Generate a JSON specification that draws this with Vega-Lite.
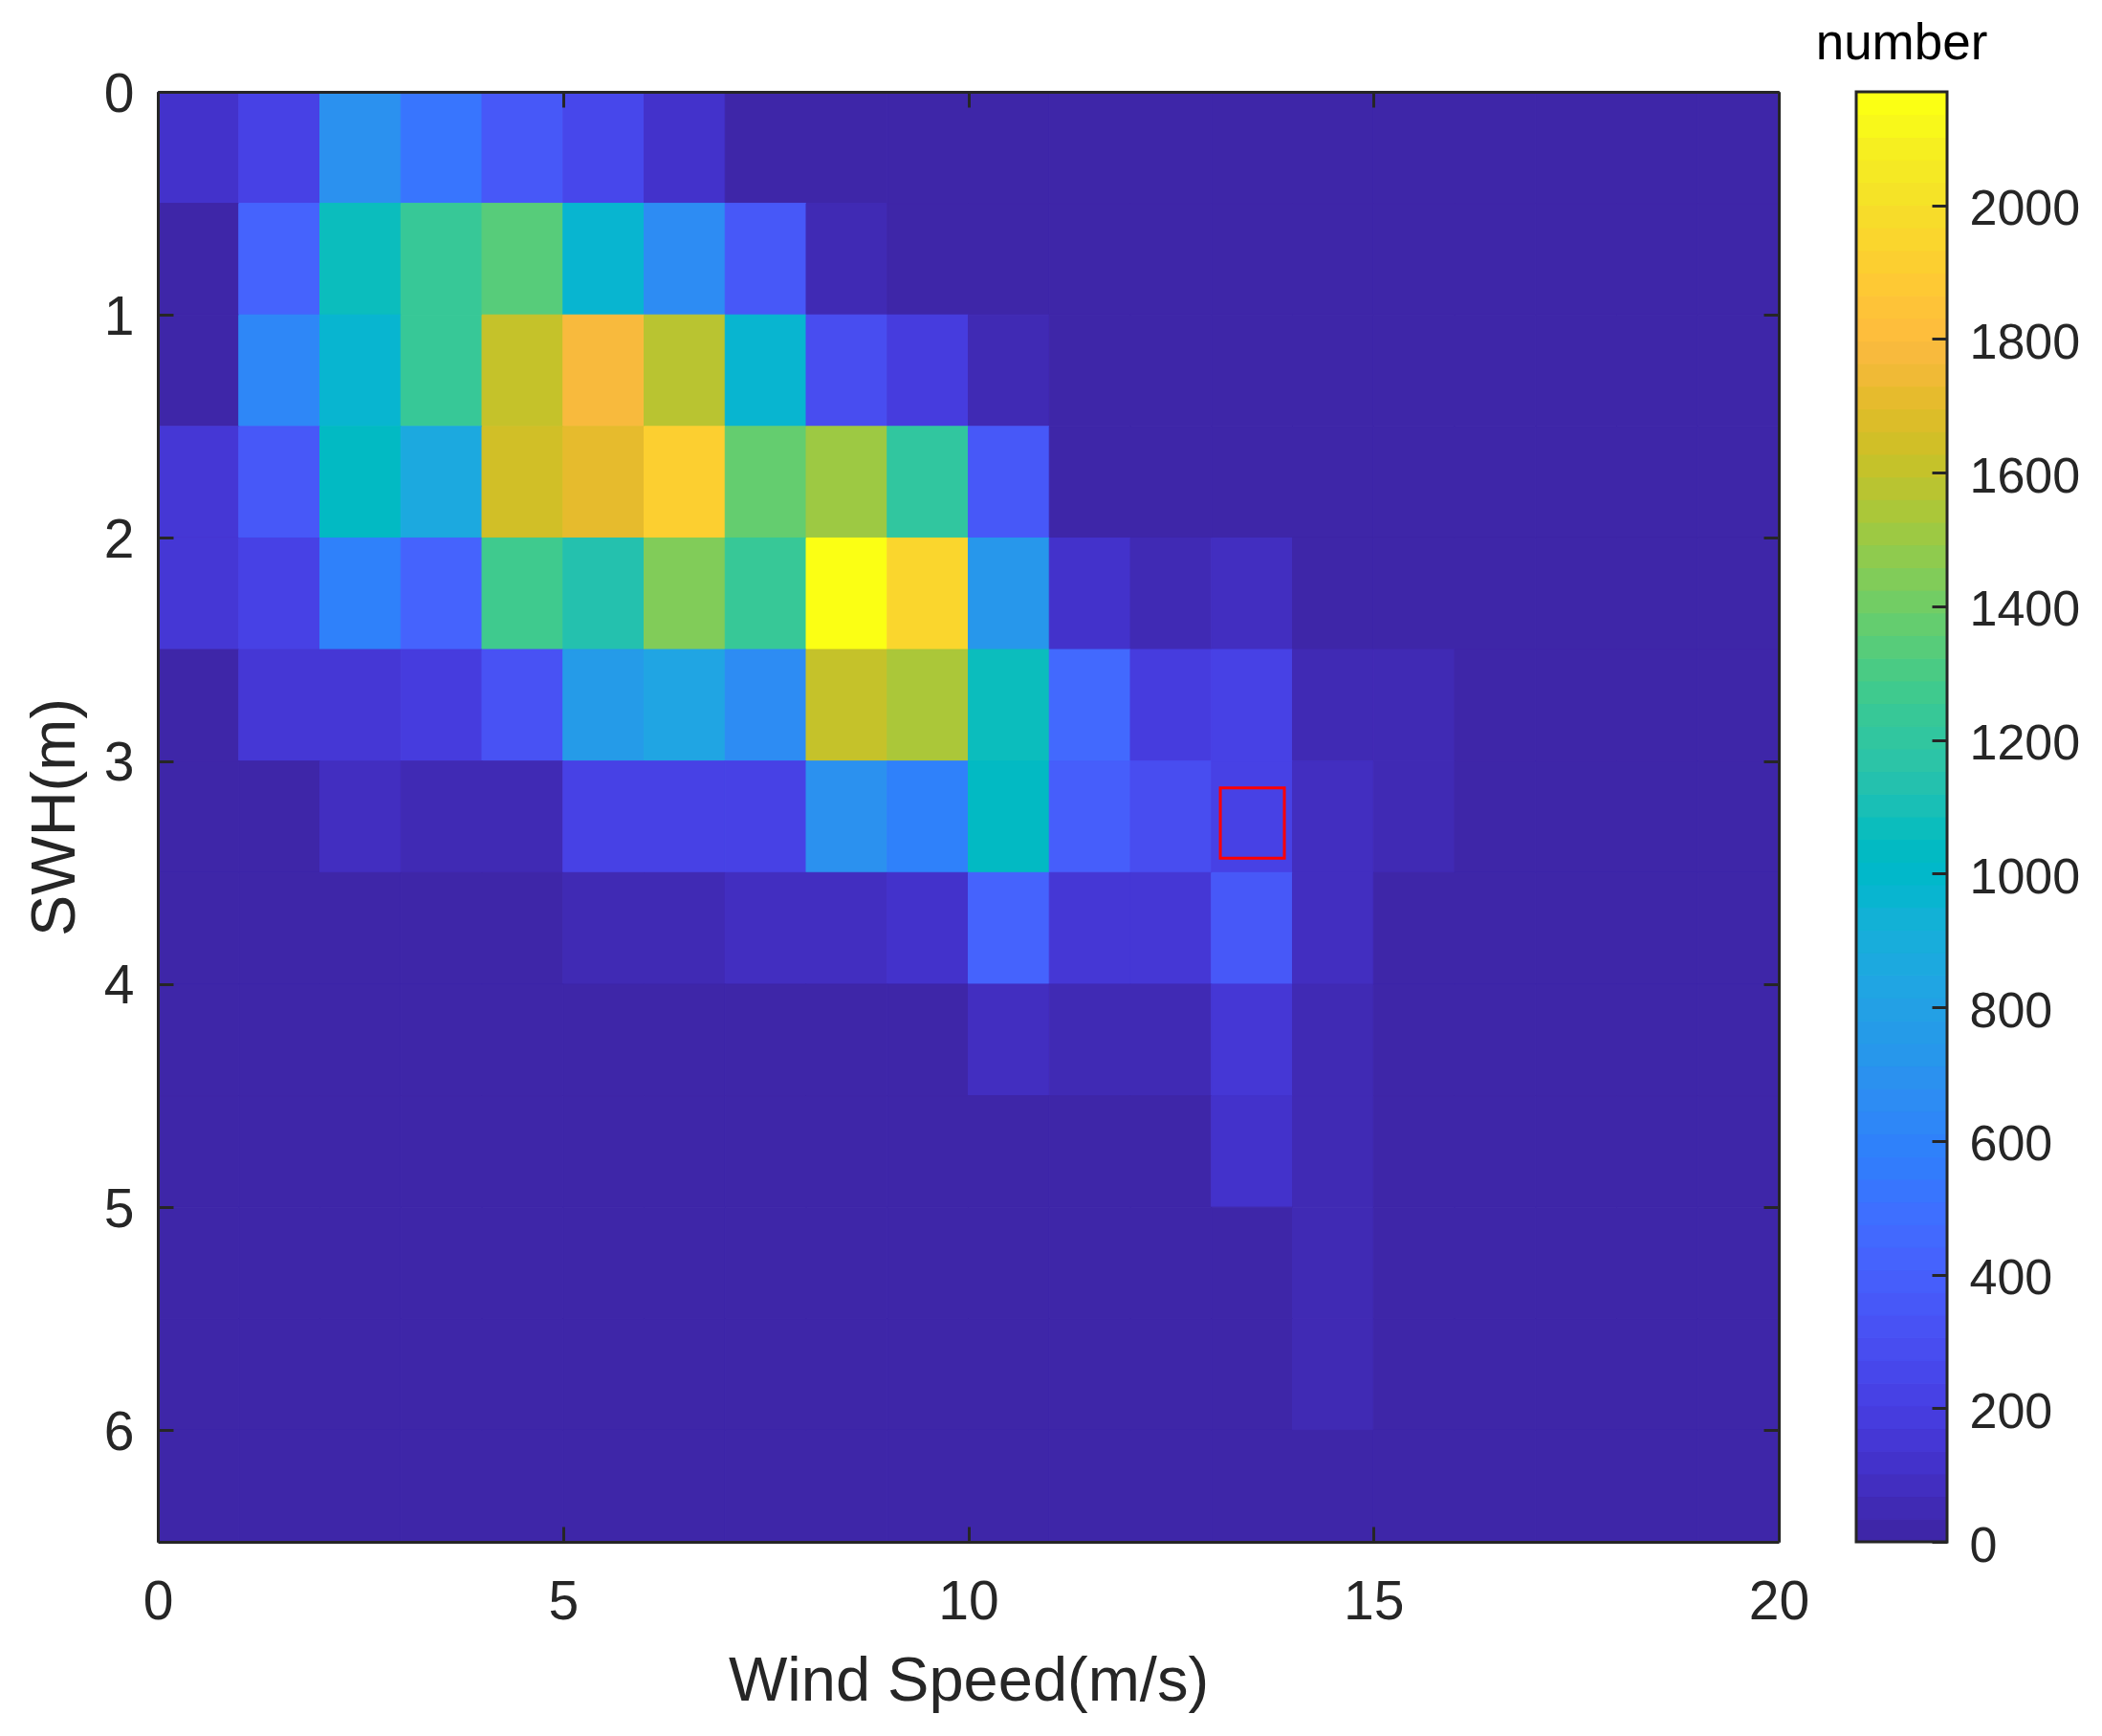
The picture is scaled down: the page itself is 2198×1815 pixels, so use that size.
{"$schema":"https://vega.github.io/schema/vega-lite/v6.json","autosize":{"type":"none"},"padding":{"left":165,"top":96,"right":2033,"bottom":203},"background":"white","bounds":"flush","spacing":81,"config":{"font":"Liberation Sans","view":{"stroke":null},"range":{"heatmap":["#3E26A8","#402AB4","#422EC0","#4332CB","#4537D5","#463CDE","#4741E5","#4747EB","#484DF0","#4852F4","#4758F8","#465EFB","#4563FD","#4269FE","#3E6FFF","#3875FE","#327CFC","#2F81FA","#2E87F7","#2D8CF3","#2B91EF","#2797EB","#259BE8","#23A0E5","#20A5E3","#1CA9DF","#18ADDB","#12B1D6","#08B5D0","#01B8CA","#02BAC3","#0BBDBD","#19BFB6","#24C1AE","#2CC4A7","#31C69F","#37C897","#3FCA8E","#4ACB84","#57CC7A","#64CD6F","#72CD64","#81CC59","#8FCB4E","#9DC943","#ABC739","#B9C431","#C5C22A","#D1BF27","#DCBD29","#E6BB2D","#F0BA36","#F8BA3D","#FEBE3C","#FEC338","#FEC934","#FCCF30","#FAD62D","#F7DC2A","#F5E327","#F5E924","#F6EF20","#F8F81A","#FBFF14"]}},
"datasets":{"cells":[
{"x":0,"x2":1,"y":0,"y2":0.5,"n":130},{"x":1,"x2":2,"y":0,"y2":0.5,"n":220},{"x":2,"x2":3,"y":0,"y2":0.5,"n":690},{"x":3,"x2":4,"y":0,"y2":0.5,"n":540},{"x":4,"x2":5,"y":0,"y2":0.5,"n":370},{"x":5,"x2":6,"y":0,"y2":0.5,"n":250},{"x":6,"x2":7,"y":0,"y2":0.5,"n":130},{"x":7,"x2":8,"y":0,"y2":0.5,"n":0},{"x":8,"x2":9,"y":0,"y2":0.5,"n":0},{"x":9,"x2":10,"y":0,"y2":0.5,"n":0},{"x":10,"x2":11,"y":0,"y2":0.5,"n":0},{"x":11,"x2":12,"y":0,"y2":0.5,"n":0},{"x":12,"x2":13,"y":0,"y2":0.5,"n":0},{"x":13,"x2":14,"y":0,"y2":0.5,"n":0},{"x":14,"x2":15,"y":0,"y2":0.5,"n":0},{"x":15,"x2":16,"y":0,"y2":0.5,"n":0},{"x":16,"x2":17,"y":0,"y2":0.5,"n":0},{"x":17,"x2":18,"y":0,"y2":0.5,"n":0},{"x":18,"x2":19,"y":0,"y2":0.5,"n":0},{"x":19,"x2":20,"y":0,"y2":0.5,"n":0},
{"x":0,"x2":1,"y":0.5,"y2":1,"n":30},{"x":1,"x2":2,"y":0.5,"y2":1,"n":420},{"x":2,"x2":3,"y":0.5,"y2":1,"n":1060},{"x":3,"x2":4,"y":0.5,"y2":1,"n":1240},{"x":4,"x2":5,"y":0.5,"y2":1,"n":1330},{"x":5,"x2":6,"y":0.5,"y2":1,"n":970},{"x":6,"x2":7,"y":0.5,"y2":1,"n":660},{"x":7,"x2":8,"y":0.5,"y2":1,"n":340},{"x":8,"x2":9,"y":0.5,"y2":1,"n":50},{"x":9,"x2":10,"y":0.5,"y2":1,"n":0},{"x":10,"x2":11,"y":0.5,"y2":1,"n":0},{"x":11,"x2":12,"y":0.5,"y2":1,"n":0},{"x":12,"x2":13,"y":0.5,"y2":1,"n":0},{"x":13,"x2":14,"y":0.5,"y2":1,"n":0},{"x":14,"x2":15,"y":0.5,"y2":1,"n":0},{"x":15,"x2":16,"y":0.5,"y2":1,"n":0},{"x":16,"x2":17,"y":0.5,"y2":1,"n":0},{"x":17,"x2":18,"y":0.5,"y2":1,"n":0},{"x":18,"x2":19,"y":0.5,"y2":1,"n":0},{"x":19,"x2":20,"y":0.5,"y2":1,"n":0},
{"x":0,"x2":1,"y":1,"y2":1.5,"n":30},{"x":1,"x2":2,"y":1,"y2":1.5,"n":620},{"x":2,"x2":3,"y":1,"y2":1.5,"n":960},{"x":3,"x2":4,"y":1,"y2":1.5,"n":1240},{"x":4,"x2":5,"y":1,"y2":1.5,"n":1610},{"x":5,"x2":6,"y":1,"y2":1.5,"n":1780},{"x":6,"x2":7,"y":1,"y2":1.5,"n":1580},{"x":7,"x2":8,"y":1,"y2":1.5,"n":970},{"x":8,"x2":9,"y":1,"y2":1.5,"n":290},{"x":9,"x2":10,"y":1,"y2":1.5,"n":190},{"x":10,"x2":11,"y":1,"y2":1.5,"n":50},{"x":11,"x2":12,"y":1,"y2":1.5,"n":0},{"x":12,"x2":13,"y":1,"y2":1.5,"n":0},{"x":13,"x2":14,"y":1,"y2":1.5,"n":0},{"x":14,"x2":15,"y":1,"y2":1.5,"n":0},{"x":15,"x2":16,"y":1,"y2":1.5,"n":0},{"x":16,"x2":17,"y":1,"y2":1.5,"n":0},{"x":17,"x2":18,"y":1,"y2":1.5,"n":0},{"x":18,"x2":19,"y":1,"y2":1.5,"n":0},{"x":19,"x2":20,"y":1,"y2":1.5,"n":0},
{"x":0,"x2":1,"y":1.5,"y2":2,"n":160},{"x":1,"x2":2,"y":1.5,"y2":2,"n":340},{"x":2,"x2":3,"y":1.5,"y2":2,"n":1030},{"x":3,"x2":4,"y":1.5,"y2":2,"n":870},{"x":4,"x2":5,"y":1.5,"y2":2,"n":1640},{"x":5,"x2":6,"y":1.5,"y2":2,"n":1710},{"x":6,"x2":7,"y":1.5,"y2":2,"n":1920},{"x":7,"x2":8,"y":1.5,"y2":2,"n":1380},{"x":8,"x2":9,"y":1.5,"y2":2,"n":1510},{"x":9,"x2":10,"y":1.5,"y2":2,"n":1200},{"x":10,"x2":11,"y":1.5,"y2":2,"n":350},{"x":11,"x2":12,"y":1.5,"y2":2,"n":0},{"x":12,"x2":13,"y":1.5,"y2":2,"n":0},{"x":13,"x2":14,"y":1.5,"y2":2,"n":0},{"x":14,"x2":15,"y":1.5,"y2":2,"n":0},{"x":15,"x2":16,"y":1.5,"y2":2,"n":0},{"x":16,"x2":17,"y":1.5,"y2":2,"n":0},{"x":17,"x2":18,"y":1.5,"y2":2,"n":0},{"x":18,"x2":19,"y":1.5,"y2":2,"n":0},{"x":19,"x2":20,"y":1.5,"y2":2,"n":0},
{"x":0,"x2":1,"y":2,"y2":2.5,"n":160},{"x":1,"x2":2,"y":2,"y2":2.5,"n":230},{"x":2,"x2":3,"y":2,"y2":2.5,"n":600},{"x":3,"x2":4,"y":2,"y2":2.5,"n":420},{"x":4,"x2":5,"y":2,"y2":2.5,"n":1280},{"x":5,"x2":6,"y":2,"y2":2.5,"n":1130},{"x":6,"x2":7,"y":2,"y2":2.5,"n":1440},{"x":7,"x2":8,"y":2,"y2":2.5,"n":1240},{"x":8,"x2":9,"y":2,"y2":2.5,"n":2170},{"x":9,"x2":10,"y":2,"y2":2.5,"n":1950},{"x":10,"x2":11,"y":2,"y2":2.5,"n":730},{"x":11,"x2":12,"y":2,"y2":2.5,"n":120},{"x":12,"x2":13,"y":2,"y2":2.5,"n":50},{"x":13,"x2":14,"y":2,"y2":2.5,"n":70},{"x":14,"x2":15,"y":2,"y2":2.5,"n":0},{"x":15,"x2":16,"y":2,"y2":2.5,"n":0},{"x":16,"x2":17,"y":2,"y2":2.5,"n":0},{"x":17,"x2":18,"y":2,"y2":2.5,"n":0},{"x":18,"x2":19,"y":2,"y2":2.5,"n":0},{"x":19,"x2":20,"y":2,"y2":2.5,"n":0},
{"x":0,"x2":1,"y":2.5,"y2":3,"n":20},{"x":1,"x2":2,"y":2.5,"y2":3,"n":140},{"x":2,"x2":3,"y":2.5,"y2":3,"n":140},{"x":3,"x2":4,"y":2.5,"y2":3,"n":180},{"x":4,"x2":5,"y":2.5,"y2":3,"n":320},{"x":5,"x2":6,"y":2.5,"y2":3,"n":760},{"x":6,"x2":7,"y":2.5,"y2":3,"n":830},{"x":7,"x2":8,"y":2.5,"y2":3,"n":650},{"x":8,"x2":9,"y":2.5,"y2":3,"n":1610},{"x":9,"x2":10,"y":2.5,"y2":3,"n":1540},{"x":10,"x2":11,"y":2.5,"y2":3,"n":1060},{"x":11,"x2":12,"y":2.5,"y2":3,"n":450},{"x":12,"x2":13,"y":2.5,"y2":3,"n":190},{"x":13,"x2":14,"y":2.5,"y2":3,"n":210},{"x":14,"x2":15,"y":2.5,"y2":3,"n":60},{"x":15,"x2":16,"y":2.5,"y2":3,"n":60},{"x":16,"x2":17,"y":2.5,"y2":3,"n":0},{"x":17,"x2":18,"y":2.5,"y2":3,"n":0},{"x":18,"x2":19,"y":2.5,"y2":3,"n":0},{"x":19,"x2":20,"y":2.5,"y2":3,"n":0},
{"x":0,"x2":1,"y":3,"y2":3.5,"n":0},{"x":1,"x2":2,"y":3,"y2":3.5,"n":0},{"x":2,"x2":3,"y":3,"y2":3.5,"n":70},{"x":3,"x2":4,"y":3,"y2":3.5,"n":40},{"x":4,"x2":5,"y":3,"y2":3.5,"n":40},{"x":5,"x2":6,"y":3,"y2":3.5,"n":220},{"x":6,"x2":7,"y":3,"y2":3.5,"n":220},{"x":7,"x2":8,"y":3,"y2":3.5,"n":220},{"x":8,"x2":9,"y":3,"y2":3.5,"n":690},{"x":9,"x2":10,"y":3,"y2":3.5,"n":590},{"x":10,"x2":11,"y":3,"y2":3.5,"n":1040},{"x":11,"x2":12,"y":3,"y2":3.5,"n":380},{"x":12,"x2":13,"y":3,"y2":3.5,"n":280},{"x":13,"x2":14,"y":3,"y2":3.5,"n":210},{"x":14,"x2":15,"y":3,"y2":3.5,"n":80},{"x":15,"x2":16,"y":3,"y2":3.5,"n":50},{"x":16,"x2":17,"y":3,"y2":3.5,"n":0},{"x":17,"x2":18,"y":3,"y2":3.5,"n":0},{"x":18,"x2":19,"y":3,"y2":3.5,"n":0},{"x":19,"x2":20,"y":3,"y2":3.5,"n":0},
{"x":0,"x2":1,"y":3.5,"y2":4,"n":0},{"x":1,"x2":2,"y":3.5,"y2":4,"n":0},{"x":2,"x2":3,"y":3.5,"y2":4,"n":0},{"x":3,"x2":4,"y":3.5,"y2":4,"n":0},{"x":4,"x2":5,"y":3.5,"y2":4,"n":0},{"x":5,"x2":6,"y":3.5,"y2":4,"n":40},{"x":6,"x2":7,"y":3.5,"y2":4,"n":40},{"x":7,"x2":8,"y":3.5,"y2":4,"n":70},{"x":8,"x2":9,"y":3.5,"y2":4,"n":70},{"x":9,"x2":10,"y":3.5,"y2":4,"n":110},{"x":10,"x2":11,"y":3.5,"y2":4,"n":430},{"x":11,"x2":12,"y":3.5,"y2":4,"n":140},{"x":12,"x2":13,"y":3.5,"y2":4,"n":140},{"x":13,"x2":14,"y":3.5,"y2":4,"n":350},{"x":14,"x2":15,"y":3.5,"y2":4,"n":90},{"x":15,"x2":16,"y":3.5,"y2":4,"n":0},{"x":16,"x2":17,"y":3.5,"y2":4,"n":0},{"x":17,"x2":18,"y":3.5,"y2":4,"n":0},{"x":18,"x2":19,"y":3.5,"y2":4,"n":0},{"x":19,"x2":20,"y":3.5,"y2":4,"n":0},
{"x":0,"x2":1,"y":4,"y2":4.5,"n":0},{"x":1,"x2":2,"y":4,"y2":4.5,"n":0},{"x":2,"x2":3,"y":4,"y2":4.5,"n":0},{"x":3,"x2":4,"y":4,"y2":4.5,"n":0},{"x":4,"x2":5,"y":4,"y2":4.5,"n":0},{"x":5,"x2":6,"y":4,"y2":4.5,"n":0},{"x":6,"x2":7,"y":4,"y2":4.5,"n":0},{"x":7,"x2":8,"y":4,"y2":4.5,"n":0},{"x":8,"x2":9,"y":4,"y2":4.5,"n":0},{"x":9,"x2":10,"y":4,"y2":4.5,"n":0},{"x":10,"x2":11,"y":4,"y2":4.5,"n":70},{"x":11,"x2":12,"y":4,"y2":4.5,"n":50},{"x":12,"x2":13,"y":4,"y2":4.5,"n":50},{"x":13,"x2":14,"y":4,"y2":4.5,"n":160},{"x":14,"x2":15,"y":4,"y2":4.5,"n":60},{"x":15,"x2":16,"y":4,"y2":4.5,"n":0},{"x":16,"x2":17,"y":4,"y2":4.5,"n":0},{"x":17,"x2":18,"y":4,"y2":4.5,"n":0},{"x":18,"x2":19,"y":4,"y2":4.5,"n":0},{"x":19,"x2":20,"y":4,"y2":4.5,"n":0},
{"x":0,"x2":1,"y":4.5,"y2":5,"n":0},{"x":1,"x2":2,"y":4.5,"y2":5,"n":0},{"x":2,"x2":3,"y":4.5,"y2":5,"n":0},{"x":3,"x2":4,"y":4.5,"y2":5,"n":0},{"x":4,"x2":5,"y":4.5,"y2":5,"n":0},{"x":5,"x2":6,"y":4.5,"y2":5,"n":0},{"x":6,"x2":7,"y":4.5,"y2":5,"n":0},{"x":7,"x2":8,"y":4.5,"y2":5,"n":0},{"x":8,"x2":9,"y":4.5,"y2":5,"n":0},{"x":9,"x2":10,"y":4.5,"y2":5,"n":0},{"x":10,"x2":11,"y":4.5,"y2":5,"n":0},{"x":11,"x2":12,"y":4.5,"y2":5,"n":0},{"x":12,"x2":13,"y":4.5,"y2":5,"n":0},{"x":13,"x2":14,"y":4.5,"y2":5,"n":110},{"x":14,"x2":15,"y":4.5,"y2":5,"n":60},{"x":15,"x2":16,"y":4.5,"y2":5,"n":0},{"x":16,"x2":17,"y":4.5,"y2":5,"n":0},{"x":17,"x2":18,"y":4.5,"y2":5,"n":0},{"x":18,"x2":19,"y":4.5,"y2":5,"n":0},{"x":19,"x2":20,"y":4.5,"y2":5,"n":0},
{"x":0,"x2":1,"y":5,"y2":5.5,"n":0},{"x":1,"x2":2,"y":5,"y2":5.5,"n":0},{"x":2,"x2":3,"y":5,"y2":5.5,"n":0},{"x":3,"x2":4,"y":5,"y2":5.5,"n":0},{"x":4,"x2":5,"y":5,"y2":5.5,"n":0},{"x":5,"x2":6,"y":5,"y2":5.5,"n":0},{"x":6,"x2":7,"y":5,"y2":5.5,"n":0},{"x":7,"x2":8,"y":5,"y2":5.5,"n":0},{"x":8,"x2":9,"y":5,"y2":5.5,"n":0},{"x":9,"x2":10,"y":5,"y2":5.5,"n":0},{"x":10,"x2":11,"y":5,"y2":5.5,"n":0},{"x":11,"x2":12,"y":5,"y2":5.5,"n":0},{"x":12,"x2":13,"y":5,"y2":5.5,"n":0},{"x":13,"x2":14,"y":5,"y2":5.5,"n":0},{"x":14,"x2":15,"y":5,"y2":5.5,"n":60},{"x":15,"x2":16,"y":5,"y2":5.5,"n":0},{"x":16,"x2":17,"y":5,"y2":5.5,"n":0},{"x":17,"x2":18,"y":5,"y2":5.5,"n":0},{"x":18,"x2":19,"y":5,"y2":5.5,"n":0},{"x":19,"x2":20,"y":5,"y2":5.5,"n":0},
{"x":0,"x2":1,"y":5.5,"y2":6,"n":0},{"x":1,"x2":2,"y":5.5,"y2":6,"n":0},{"x":2,"x2":3,"y":5.5,"y2":6,"n":0},{"x":3,"x2":4,"y":5.5,"y2":6,"n":0},{"x":4,"x2":5,"y":5.5,"y2":6,"n":0},{"x":5,"x2":6,"y":5.5,"y2":6,"n":0},{"x":6,"x2":7,"y":5.5,"y2":6,"n":0},{"x":7,"x2":8,"y":5.5,"y2":6,"n":0},{"x":8,"x2":9,"y":5.5,"y2":6,"n":0},{"x":9,"x2":10,"y":5.5,"y2":6,"n":0},{"x":10,"x2":11,"y":5.5,"y2":6,"n":0},{"x":11,"x2":12,"y":5.5,"y2":6,"n":0},{"x":12,"x2":13,"y":5.5,"y2":6,"n":0},{"x":13,"x2":14,"y":5.5,"y2":6,"n":0},{"x":14,"x2":15,"y":5.5,"y2":6,"n":60},{"x":15,"x2":16,"y":5.5,"y2":6,"n":0},{"x":16,"x2":17,"y":5.5,"y2":6,"n":0},{"x":17,"x2":18,"y":5.5,"y2":6,"n":0},{"x":18,"x2":19,"y":5.5,"y2":6,"n":0},{"x":19,"x2":20,"y":5.5,"y2":6,"n":0},
{"x":0,"x2":1,"y":6,"y2":6.5,"n":0},{"x":1,"x2":2,"y":6,"y2":6.5,"n":0},{"x":2,"x2":3,"y":6,"y2":6.5,"n":0},{"x":3,"x2":4,"y":6,"y2":6.5,"n":0},{"x":4,"x2":5,"y":6,"y2":6.5,"n":0},{"x":5,"x2":6,"y":6,"y2":6.5,"n":0},{"x":6,"x2":7,"y":6,"y2":6.5,"n":0},{"x":7,"x2":8,"y":6,"y2":6.5,"n":0},{"x":8,"x2":9,"y":6,"y2":6.5,"n":0},{"x":9,"x2":10,"y":6,"y2":6.5,"n":0},{"x":10,"x2":11,"y":6,"y2":6.5,"n":0},{"x":11,"x2":12,"y":6,"y2":6.5,"n":0},{"x":12,"x2":13,"y":6,"y2":6.5,"n":0},{"x":13,"x2":14,"y":6,"y2":6.5,"n":0},{"x":14,"x2":15,"y":6,"y2":6.5,"n":0},{"x":15,"x2":16,"y":6,"y2":6.5,"n":0},{"x":16,"x2":17,"y":6,"y2":6.5,"n":0},{"x":17,"x2":18,"y":6,"y2":6.5,"n":0},{"x":18,"x2":19,"y":6,"y2":6.5,"n":0},{"x":19,"x2":20,"y":6,"y2":6.5,"n":0}
],
"box":[{"x":13.11,"x2":13.9,"y":3.12,"y2":3.435}],
"bands":[{"lo":0,"hi":33.9,"n":17},{"lo":33.9,"hi":67.8,"n":51},{"lo":67.8,"hi":101.7,"n":85},{"lo":101.7,"hi":135.6,"n":119},{"lo":135.6,"hi":169.5,"n":153},{"lo":169.5,"hi":203.4,"n":187},{"lo":203.4,"hi":237.3,"n":220},{"lo":237.3,"hi":271.3,"n":254},{"lo":271.3,"hi":305.2,"n":288},{"lo":305.2,"hi":339.1,"n":322},{"lo":339.1,"hi":373,"n":356},{"lo":373,"hi":406.9,"n":390},{"lo":406.9,"hi":440.8,"n":424},{"lo":440.8,"hi":474.7,"n":458},{"lo":474.7,"hi":508.6,"n":492},{"lo":508.6,"hi":542.5,"n":526},{"lo":542.5,"hi":576.4,"n":559},{"lo":576.4,"hi":610.3,"n":593},{"lo":610.3,"hi":644.2,"n":627},{"lo":644.2,"hi":678.1,"n":661},{"lo":678.1,"hi":712,"n":695},{"lo":712,"hi":745.9,"n":729},{"lo":745.9,"hi":779.8,"n":763},{"lo":779.8,"hi":813.8,"n":797},{"lo":813.8,"hi":847.7,"n":831},{"lo":847.7,"hi":881.6,"n":865},{"lo":881.6,"hi":915.5,"n":899},{"lo":915.5,"hi":949.4,"n":932},{"lo":949.4,"hi":983.3,"n":966},{"lo":983.3,"hi":1017.2,"n":1000},{"lo":1017.2,"hi":1051.1,"n":1034},{"lo":1051.1,"hi":1085,"n":1068},{"lo":1085,"hi":1118.9,"n":1102},{"lo":1118.9,"hi":1152.8,"n":1136},{"lo":1152.8,"hi":1186.7,"n":1170},{"lo":1186.7,"hi":1220.6,"n":1204},{"lo":1220.6,"hi":1254.5,"n":1238},{"lo":1254.5,"hi":1288.4,"n":1271},{"lo":1288.4,"hi":1322.3,"n":1305},{"lo":1322.3,"hi":1356.3,"n":1339},{"lo":1356.3,"hi":1390.2,"n":1373},{"lo":1390.2,"hi":1424.1,"n":1407},{"lo":1424.1,"hi":1458,"n":1441},{"lo":1458,"hi":1491.9,"n":1475},{"lo":1491.9,"hi":1525.8,"n":1509},{"lo":1525.8,"hi":1559.7,"n":1543},{"lo":1559.7,"hi":1593.6,"n":1577},{"lo":1593.6,"hi":1627.5,"n":1610},{"lo":1627.5,"hi":1661.4,"n":1644},{"lo":1661.4,"hi":1695.3,"n":1678},{"lo":1695.3,"hi":1729.2,"n":1712},{"lo":1729.2,"hi":1763.1,"n":1746},{"lo":1763.1,"hi":1797,"n":1780},{"lo":1797,"hi":1830.9,"n":1814},{"lo":1830.9,"hi":1864.8,"n":1848},{"lo":1864.8,"hi":1898.8,"n":1882},{"lo":1898.8,"hi":1932.7,"n":1916},{"lo":1932.7,"hi":1966.6,"n":1950},{"lo":1966.6,"hi":2000.5,"n":1983},{"lo":2000.5,"hi":2034.4,"n":2017},{"lo":2034.4,"hi":2068.3,"n":2051},{"lo":2068.3,"hi":2102.2,"n":2085},{"lo":2102.2,"hi":2136.1,"n":2119},{"lo":2136.1,"hi":2170,"n":2153}],
"barframe":[{"lo":0,"hi":2170}]},
"hconcat":[
{"width":1695,"height":1516,"layer":[
{"data":{"name":"cells"},"mark":{"type":"rect","strokeWidth":1},"encoding":{
"x":{"field":"x","type":"quantitative","scale":{"domain":[0,20],"nice":false},"axis":{"orient":"bottom","values":[0,5,10,15,20],"grid":false,"zindex":1,"title":"Wind Speed(m/s)","titleFont":"Liberation Sans","titleFontSize":65,"titleFontWeight":"normal","titleColor":"#262626","titlePadding":23,"labelFont":"Liberation Sans","labelFontSize":57,"labelColor":"#262626","labelPadding":51,"labelFlush":false,"labelOverlap":false,"tickColor":"#262626","tickWidth":3,"tickSize":-16,"domainColor":"#262626","domainWidth":3}},
"x2":{"field":"x2"},
"y":{"field":"y","type":"quantitative","scale":{"domain":[0,6.5],"reverse":true,"nice":false},"axis":{"orient":"left","values":[0,1,2,3,4,5,6],"grid":false,"zindex":1,"title":"SWH(m)","titleFont":"Liberation Sans","titleFontSize":65,"titleFontWeight":"normal","titleColor":"#262626","titlePadding":17,"labelFont":"Liberation Sans","labelFontSize":57,"labelColor":"#262626","labelPadding":41,"labelOffset":3,"labelFlush":false,"labelOverlap":false,"tickColor":"#262626","tickWidth":3,"tickSize":-16,"domainColor":"#262626","domainWidth":3}},
"y2":{"field":"y2"},
"color":{"field":"n","type":"quantitative","legend":null,"scale":{"type":"quantize","domain":[0,2170],"range":"heatmap"}},
"stroke":{"field":"n","type":"quantitative","legend":null,"scale":{"type":"quantize","domain":[0,2170],"range":"heatmap"}}
}},
{"data":{"name":"box"},"mark":{"type":"rect","fill":null,"stroke":"#FF0000","strokeWidth":3},"encoding":{
"x":{"field":"x","type":"quantitative","scale":{"domain":[0,20],"nice":false},"axis":{"orient":"top","values":[0,5,10,15,20],"grid":false,"zindex":1,"title":null,"labels":false,"tickColor":"#262626","tickWidth":3,"tickSize":-16,"domainColor":"#262626","domainWidth":3}},
"x2":{"field":"x2"},
"y":{"field":"y","type":"quantitative","scale":{"domain":[0,6.5],"reverse":true,"nice":false},"axis":{"orient":"right","values":[0,1,2,3,4,5,6],"grid":false,"zindex":1,"title":null,"labels":false,"tickColor":"#262626","tickWidth":3,"tickSize":-16,"domainColor":"#262626","domainWidth":3}},
"y2":{"field":"y2"}
}}
],"resolve":{"axis":{"x":"independent","y":"independent"}}},
{"width":95,"height":1516,"title":{"text":"number","font":"Liberation Sans","fontSize":53,"fontWeight":"normal","color":"#000000","anchor":"middle","offset":22},"layer":[
{"data":{"name":"bands"},"mark":{"type":"rect","strokeWidth":1},"encoding":{
"y":{"field":"lo","type":"quantitative","scale":{"domain":[0,2170],"nice":false},"axis":{"orient":"right","values":[0,200,400,600,800,1000,1200,1400,1600,1800,2000],"format":"d","grid":false,"zindex":1,"title":null,"domain":false,"labelFont":"Liberation Sans","labelFontSize":52,"labelColor":"#262626","labelPadding":39,"labelOffset":4,"labelFlush":false,"labelOverlap":false,"tickColor":"#262626","tickWidth":3,"tickSize":-16}},
"y2":{"field":"hi"},
"color":{"field":"n","type":"quantitative","legend":null,"scale":{"type":"quantize","domain":[0,2170],"range":"heatmap"}},
"stroke":{"field":"n","type":"quantitative","legend":null,"scale":{"type":"quantize","domain":[0,2170],"range":"heatmap"}}
}},
{"data":{"name":"barframe"},"mark":{"type":"rect","fill":null,"stroke":"#262626","strokeWidth":3},"encoding":{
"y":{"field":"lo","type":"quantitative"},
"y2":{"field":"hi"}
}}
]}
]}
